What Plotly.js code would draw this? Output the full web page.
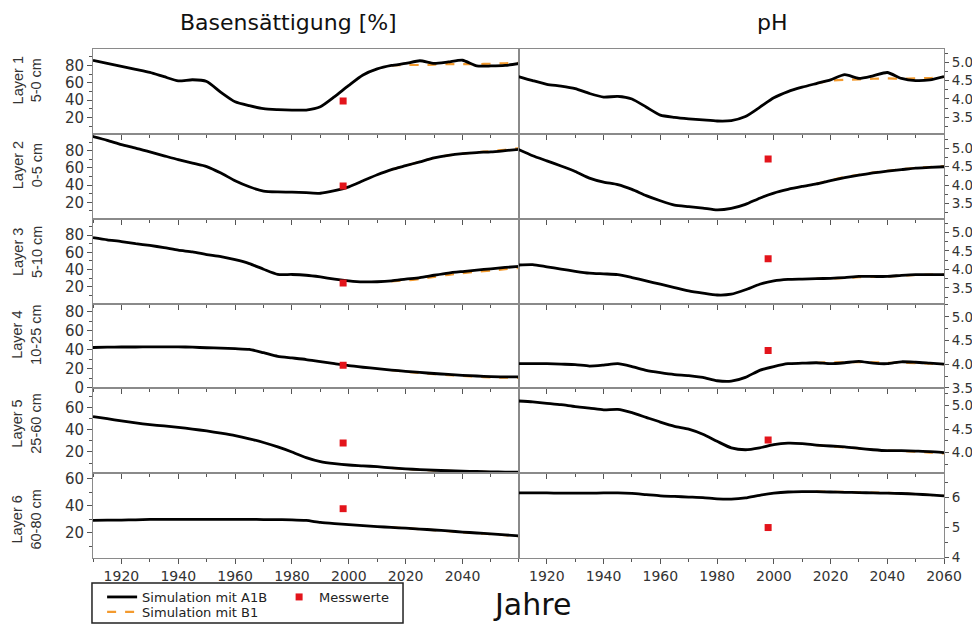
<!DOCTYPE html>
<html><head><meta charset="utf-8">
<script src="https://cdn.plot.ly/plotly-3.0.1.min.js"></script>
<style>body{margin:0;background:#fff}#chart{width:972px;height:624px}</style>
</head><body><div id="chart"></div>
<script>
// ---- data ----
const years = [1910,1915,1920,1925,1930,1935,1940,1945,1950,1955,1960,1965,1970,1975,1980,1985,1990,1995,2000,2005,2010,2015,2020,2025,2030,2035,2040,2045,2050,2055,2060];
const b1Years = [2015,2020,2025,2030,2035,2040,2045,2050,2055,2060];
const measYear = 1998;
const layerNames = ['Layer 1','Layer 2','Layer 3','Layer 4','Layer 5','Layer 6'];
const layerDepths = ['5-0 cm','0-5 cm','5-10 cm','10-25 cm','25-60 cm','60-80 cm'];

// Basensättigung [%] - Simulation mit A1B
const bsA1B1 = [86,82.5,79,75.5,72,67,62.2,63.5,61.5,49,38,33.5,30,29,28.5,28.5,32.3,44,57,69,76,80,82.3,85.4,82.3,84,86,79.5,79.4,80,82.3];
const bsA1B2 = [96.3,92,87,83,78.5,74,69.5,65.5,61.5,54,45,38,33,32,31.8,31.2,30.5,33.5,38,45,52,58,62.5,67,71.5,74.5,76.5,77.8,78.6,80,81.5];
const bsA1B3 = [77,74.5,72.5,70,68,65.5,62.5,60.5,57.5,55,51.5,47,40.5,34.5,34.4,33.5,31.5,29,27,25.8,26,27,29,30.8,33.5,36,37.8,39.5,41,42.5,43.8];
const bsA1B4 = [42.5,42.8,43,43,43.2,43.2,43.2,42.8,42.2,41.8,41.2,40.5,37,33.2,31.5,29.8,27.5,25.4,23.3,21.7,20.2,18.7,17.4,16.2,15.1,14.1,13.2,12.5,11.8,11.6,11.6];
const bsA1B5 = [51.6,49.8,47.8,46,44.5,43.3,42,40.5,38.8,36.8,34.6,31.8,28.5,24.5,20,14.9,11.3,9.5,8.3,7.6,6.8,5.7,4.8,4.2,3.6,3.2,2.8,2.5,2.2,2.0,1.8];
const bsA1B6 = [29.3,29.4,29.5,29.7,30,30,30,30,30,30,30,30,29.9,29.8,29.7,29.2,27.8,26.9,26.1,25.4,24.7,24.1,23.5,22.9,22.2,21.5,20.7,20,19.3,18.6,17.8];
// Basensättigung [%] - Simulation mit B1
const bsB1_1 = [80,80.5,80.5,81,81.5,81.5,81.5,82,82.5,83];
const bsB1_2 = [58,62.5,67,71.5,74.5,76.5,78,79.5,81,83];
const bsB1_3 = [26.5,27.5,29,31.5,34,36,37.5,39,40.5,42];
const bsB1_4 = [18.5,17,15.7,14.5,13.4,12.5,11.7,11,10.7,10.5];
const bsB1_5 = [5.7,4.8,4.1,3.5,3.0,2.6,2.3,2.0,1.8,1.6];
const bsB1_6 = [24.1,23.5,22.8,22.1,21.3,20.5,19.8,19.1,18.4,17.6];
// Basensättigung [%] - Messwerte
const bsMeas = [38.8,39,24.6,23.8,28,37.9];

// pH - Simulation mit A1B
const phA1B1 = [4.61,4.5,4.4,4.35,4.28,4.15,4.05,4.07,4.0,3.78,3.56,3.5,3.46,3.43,3.4,3.41,3.52,3.77,4.03,4.2,4.32,4.42,4.52,4.66,4.56,4.63,4.72,4.56,4.5,4.52,4.61];
const phA1B2 = [4.97,4.8,4.66,4.52,4.37,4.19,4.08,4.01,3.88,3.71,3.57,3.45,3.41,3.37,3.32,3.36,3.47,3.64,3.78,3.88,3.96,4.03,4.12,4.2,4.27,4.33,4.38,4.42,4.46,4.48,4.5];
const phA1B3 = [4.12,4.13,4.07,4.01,3.95,3.9,3.88,3.86,3.78,3.69,3.6,3.51,3.42,3.36,3.31,3.33,3.45,3.6,3.69,3.73,3.74,3.75,3.76,3.78,3.81,3.81,3.81,3.84,3.86,3.86,3.86];
const phA1B4 = [4.01,4.01,4.01,4.0,3.99,3.96,3.98,4.01,3.95,3.87,3.82,3.78,3.76,3.72,3.65,3.64,3.72,3.87,3.95,4.01,4.02,4.03,4.01,4.03,4.06,4.02,4.01,4.05,4.04,4.02,4.0];
const phA1B5 = [5.1,5.08,5.05,5.02,4.98,4.95,4.91,4.92,4.85,4.75,4.65,4.56,4.5,4.39,4.24,4.1,4.06,4.1,4.17,4.2,4.19,4.16,4.14,4.12,4.09,4.06,4.04,4.04,4.03,4.02,4.0];
const phA1B6 = [6.16,6.16,6.16,6.15,6.15,6.15,6.16,6.16,6.14,6.1,6.06,6.04,6.02,6.0,5.96,5.95,5.99,6.08,6.15,6.19,6.2,6.2,6.19,6.18,6.17,6.16,6.15,6.14,6.12,6.09,6.06];
// pH - Simulation mit B1
const phB1_1 = [4.42,4.5,4.52,4.53,4.55,4.56,4.55,4.56,4.57,4.6];
const phB1_2 = [4.03,4.13,4.22,4.28,4.34,4.39,4.43,4.47,4.49,4.52];
const phB1_3 = [3.75,3.75,3.77,3.79,3.8,3.81,3.83,3.85,3.86,3.86];
const phB1_4 = [4.03,4.04,4.04,4.04,4.04,4.03,4.03,4.02,4.01,4.0];
const phB1_5 = [4.16,4.13,4.11,4.09,4.06,4.04,4.03,4.02,4.0,3.98];
const phB1_6 = [6.2,6.2,6.19,6.18,6.17,6.16,6.14,6.12,6.09,6.06];
// pH - Messwerte (no value for layer 1)
const phMeas = [null,4.71,4.29,4.29,4.27,5.0];

// ---- build ----
const bsA1B = [bsA1B1,bsA1B2,bsA1B3,bsA1B4,bsA1B5,bsA1B6];
const bsB1 = [bsB1_1,bsB1_2,bsB1_3,bsB1_4,bsB1_5,bsB1_6];
const phA1B = [phA1B1,phA1B2,phA1B3,phA1B4,phA1B5,phA1B6];
const phB1 = [phB1_1,phB1_2,phB1_3,phB1_4,phB1_5,phB1_6];

const bsRanges = [[1,99],[1,99.5],[0.8,99],[-0.5,88.8],[1,77],[1.6,64]];
const phRanges = [[3.05,5.36],[3.08,5.4],[3.08,5.37],[3.49,5.28],[3.56,5.37],[3.98,6.82]];
// vertical pixel shift of each layer label relative to its row centre (up = positive)
const labelShiftPx = [11,11,9,11,7,-4];

const BLACK = '#000000', ORANGE = '#f39a2e', RED = '#e3141b';
const LINEC = '#8a8a8a';
const PLOT_H = 509;

const traces = [];
const layout = {
  width:972, height:624, autosize:false,
  margin:{l:93, r:28, t:49, b:66, pad:0, autoexpand:false},
  paper_bgcolor:'#ffffff', plot_bgcolor:'#ffffff',
  font:{family:'DejaVu Sans', color:'#222'},
  showlegend:true,
  legend:{orientation:'h', x:0.0107, y:-0.0766, xanchor:'left', yanchor:'middle',
          bgcolor:'rgba(0,0,0,0)', borderwidth:0, entrywidth:132, entrywidthmode:'pixels',
          font:{family:'DejaVu Sans', size:13, color:'#222'}},
  legend2:{orientation:'h', x:0.0107, y:-0.106, xanchor:'left', yanchor:'middle',
          bgcolor:'rgba(0,0,0,0)', borderwidth:0,
          font:{family:'DejaVu Sans', size:13, color:'#222'}},
  annotations:[], shapes:[]
};

function axName(i){ return i===1 ? '' : String(i); }

for (let r=0; r<6; r++){
  for (let c=0; c<2; c++){
    const idx = r*2 + c + 1;
    const xa = 'x'+axName(idx), ya = 'y'+axName(idx);
    const isBS = c===0;
    const A = isBS ? bsA1B[r] : phA1B[r];
    const B = isBS ? bsB1[r] : phB1[r];
    const M = isBS ? bsMeas[r] : phMeas[r];
    const first = (idx===1);
    traces.push({x:b1Years, y:B, xaxis:xa, yaxis:ya, type:'scatter', mode:'lines',
      name:'Simulation mit B1', legend:'legend2', showlegend:first,
      line:{color:ORANGE, width:2.2, dash:'dash', shape:'spline', smoothing:0.5}, hoverinfo:'skip'});
    traces.push({x:years, y:A, xaxis:xa, yaxis:ya, type:'scatter', mode:'lines',
      name:'Simulation mit A1B', legend:'legend', showlegend:first,
      line:{color:BLACK, width:2.8, shape:'spline', smoothing:0.6}, hoverinfo:'skip'});
    traces.push({x: M===null ? [] : [measYear], y: M===null ? [] : [M], xaxis:xa, yaxis:ya,
      type:'scatter', mode:'markers', name:'Messwerte', legend:'legend', showlegend:first,
      marker:{symbol:'square', color:RED, size:7}, hoverinfo:'skip'});

    const dom = c===0 ? [0,0.5] : [0.5,1];
    layout['xaxis'+axName(idx)] = {
      domain:dom, anchor:ya, range: c===0 ? [1910,2059.7] : [1910,2060], tick0:1920, dtick:20,
      showgrid:false, zeroline:false, showline:true, mirror:true, linecolor:LINEC, linewidth:1,
      ticks:'outside', ticklen:5, tickcolor:'#555', tickwidth:1,
      minor:{dtick:10, ticks:'outside', ticklen:3, tickcolor:'#555'},
      showticklabels: r===5, tickfont:{family:'DejaVu Sans', size:14, color:'#333'}
    };
    const ydom = [1-(r+1)/6, 1-r/6];
    const yax = {
      domain:ydom, anchor:xa, side: c===0 ? 'left' : 'right',
      range: isBS ? bsRanges[r] : phRanges[r],
      showgrid:false, zeroline:false, showline:true, mirror:true, linecolor:LINEC, linewidth:1,
      ticks:'outside', ticklen: isBS ? 5 : 4, tickcolor:'#555', tickwidth:1,
      tickfont: {family:'DejaVu Sans', size: isBS ? 15 : 13.5, color:'#333'}
    };
    if (isBS){ yax.tick0=0; yax.dtick=20; yax.minor={dtick:10, ticks:'outside', ticklen:3, tickcolor:'#555'}; }
    else if (r<5){ yax.tick0=0; yax.dtick=0.5; yax.tickformat='.1f'; yax.minor={dtick:0.25, ticks:'outside', ticklen:3, tickcolor:'#555'}; }
    else { yax.tick0=0; yax.dtick=1; yax.tickformat='d'; yax.minor={dtick:0.5, ticks:'outside', ticklen:3, tickcolor:'#555'}; }
    layout['yaxis'+axName(idx)] = yax;
  }
  // layer label
  layout.annotations.push({
    xref:'paper', yref:'paper', x:-0.0776, y:1-(r+0.5)/6 + labelShiftPx[r]/PLOT_H, xanchor:'center', yanchor:'middle',
    text: layerNames[r] + '<br>' + layerDepths[r], textangle:-90, showarrow:false,
    font:{family:'Liberation Sans', size:14.5, color:'#333'}
  });
}

layout.annotations.push({xref:'paper', yref:'paper', x:0.2303, y:1.053, xanchor:'center', yanchor:'middle',
  text:'Basensättigung [%]', showarrow:false, font:{family:'DejaVu Sans', size:22, color:'#111'}});
layout.annotations.push({xref:'paper', yref:'paper', x:0.798, y:1.053, xanchor:'center', yanchor:'middle',
  text:'pH', showarrow:false, font:{family:'DejaVu Sans', size:22, color:'#111'}});
layout.annotations.push({xref:'paper', yref:'paper', x:0.516, y:-0.0923, xanchor:'center', yanchor:'middle',
  text:'Jahre', showarrow:false, font:{family:'DejaVu Sans', size:30, color:'#111'}});

// legend frame
layout.shapes.push({type:'rect', xref:'paper', yref:'paper', x0:-0.0012, x1:0.3643, y0:-0.1277, y1:-0.0491,
  line:{color:'#222', width:1.5}, fillcolor:'rgba(0,0,0,0)'});

Plotly.newPlot('chart', traces, layout, {staticPlot:true, displayModeBar:false});
</script>
</body></html>
